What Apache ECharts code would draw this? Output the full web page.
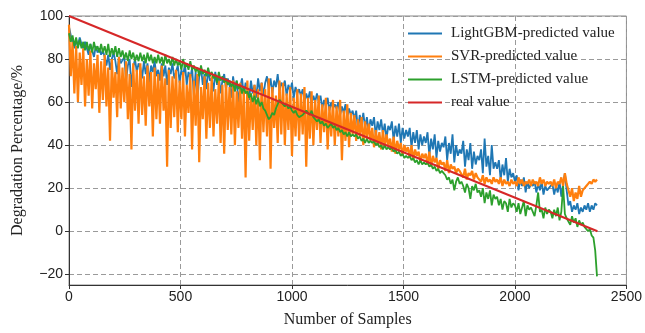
<!DOCTYPE html>
<html>
<head>
<meta charset="utf-8">
<script src="https://cdn.jsdelivr.net/npm/echarts@6/dist/echarts.min.js"></script>
<style>
html,body{margin:0;padding:0;background:#fff;}
#chart{width:645px;height:333px;}
</style>
</head>
<body>
<div id="chart"></div>
<script>
const sampleStep = 8;
const xTicks = [0, 500, 1000, 1500, 2000, 2500];
const yTicks = [-20, 0, 20, 40, 60, 80, 100];
const seriesNames = ['LightGBM-predicted value', 'SVR-predicted value', 'LSTM-predicted value', 'real value'];

const lightgbm = [
  95, 91, 88, 85, 89, 86, 90, 87, 85, 88,
  85, 82, 87, 84, 81, 86, 83, 85, 82, 84,
  81, 77, 82, 75, 80, 83, 79, 73, 81, 78,
  78, 81, 70, 77, 80, 67, 76, 80, 74, 78,
  76, 71, 79, 73, 78, 69, 77, 74, 79, 72,
  75, 70, 78, 72, 77, 68, 76, 73, 78, 71,
  74, 77, 69, 75, 72, 78, 68, 74, 71, 76,
  63, 74, 61, 72, 76, 68, 73, 66, 75, 70,
  71, 65, 74, 68, 72, 64, 70, 73, 66, 71,
  68, 62, 72, 65, 70, 60, 67, 71, 63, 69,
  66, 61, 70, 64, 68, 62, 71, 65, 69, 63,
  69, 72, 66, 71, 64, 70, 67, 73, 65, 69,
  67, 70, 63, 68, 65, 69, 62, 67, 64, 66,
  63, 66, 60, 64, 61, 65, 59, 63, 60, 64,
  60, 63, 57, 61, 58, 62, 56, 60, 57, 59,
  57, 60, 54, 58, 55, 59, 53, 57, 54, 56,
  52, 56, 47, 54, 50, 55, 48, 53, 46, 52,
  49, 53, 44, 51, 47, 52, 45, 50, 43, 49,
  47, 51, 42, 49, 44, 50, 41, 48, 43, 47,
  44, 48, 39, 46, 41, 47, 38, 45, 40, 44,
  41, 46, 35, 43, 38, 45, 34, 42, 37, 41,
  39, 44, 33, 41, 36, 45, 32, 40, 35, 38,
  36, 42, 30, 38, 33, 41, 29, 37, 31, 35,
  33, 38, 27, 43, 30, 35, 26, 40, 29, 32,
  29, 33, 24, 31, 26, 34, 23, 29, 25, 27,
  23, 26, 19, 24, 21, 25, 18, 23, 20, 22,
  21, 23, 18, 22, 19, 23, 17, 21, 19, 20,
  20, 22, 17, 21, 18, 23, 16, 22, 27, 19,
  12, 14, 9, 12, 10, 13, 8, 11, 9, 12,
  10, 13, 9, 12, 10, 13, 12
];
const svr = [
  96, 72, 88, 64, 86, 60, 83, 68, 85, 58,
  80, 63, 84, 57, 78, 66, 82, 55, 79, 61,
  82, 58, 76, 42, 80, 62, 74, 53, 81, 57,
  76, 60, 79, 52, 73, 38, 78, 56, 75, 50,
  78, 54, 72, 49, 77, 58, 74, 44, 76, 52,
  73, 50, 77, 56, 71, 30, 75, 48, 72, 53,
  75, 46, 70, 52, 74, 44, 68, 55, 73, 38,
  70, 49, 73, 32, 67, 52, 72, 43, 69, 48,
  72, 44, 66, 50, 70, 41, 68, 36, 71, 47,
  67, 45, 70, 40, 65, 48, 69, 43, 66, 25,
  70, 42, 64, 47, 68, 40, 66, 33, 69, 46,
  66, 44, 71, 29, 67, 48, 63, 41, 70, 45,
  69, 40, 64, 47, 67, 35, 62, 44, 66, 42,
  64, 45, 67, 30, 62, 43, 65, 40, 61, 47,
  63, 41, 59, 46, 62, 38, 58, 44, 61, 40,
  58, 44, 61, 33, 56, 42, 59, 39, 55, 45,
  54, 42, 52, 44, 53, 40, 51, 43, 50, 42,
  48, 39, 47, 40, 46, 38, 47, 39, 45, 40,
  43, 37, 44, 36, 42, 38, 41, 35, 40, 37,
  39, 34, 40, 33, 38, 35, 37, 32, 36, 34,
  36, 31, 37, 30, 35, 32, 34, 29, 33, 31,
  32, 28, 33, 27, 31, 29, 30, 27, 29, 28,
  28, 25, 29, 24, 27, 26, 28, 24, 27, 25,
  25, 23, 26, 22, 25, 23, 24, 22, 25, 23,
  24, 22, 25, 21, 24, 22, 23, 21, 24, 22,
  23, 21, 25, 22, 24, 21, 23, 22, 24, 21,
  24, 22, 23, 21, 25, 22, 24, 21, 23, 22,
  23, 21, 24, 20, 23, 22, 25, 21, 27, 22,
  19, 16, 20, 14, 18, 15, 21, 16, 19, 20,
  21, 22, 23, 22, 24, 23, 24
];
const lstm = [
  92, 88, 91, 86, 90, 85, 89, 85, 88, 84,
  88, 84, 87, 83, 88, 84, 86, 83, 87, 83,
  86, 82, 87, 81, 85, 82, 86, 81, 85, 81,
  84, 80, 83, 79, 84, 80, 83, 79, 82, 79,
  83, 79, 82, 78, 83, 79, 82, 78, 81, 78,
  82, 78, 81, 77, 82, 78, 80, 77, 81, 77,
  80, 77, 79, 75, 80, 76, 78, 75, 79, 75,
  77, 74, 76, 72, 77, 73, 75, 72, 76, 72,
  74, 71, 73, 69, 74, 70, 72, 69, 71, 68,
  70, 67, 69, 65, 70, 66, 68, 64, 67, 64,
  65, 62, 64, 60, 63, 59, 62, 58, 60, 57,
  56, 54, 52, 53, 55, 54, 57, 59, 61, 60,
  60, 58, 59, 57, 58, 56, 55, 56, 54, 53,
  53, 54, 55, 56, 55, 54, 56, 53, 52, 51,
  52, 50, 51, 49, 50, 48, 49, 50, 48, 49,
  47, 48, 46, 47, 45, 46, 44, 46, 44, 45,
  44, 45, 43, 44, 42, 43, 41, 43, 41, 42,
  41, 42, 40, 41, 39, 40, 38, 40, 38, 39,
  38, 39, 37, 38, 36, 37, 35, 36, 34, 35,
  34, 35, 33, 34, 32, 33, 31, 33, 31, 32,
  31, 32, 30, 31, 29, 30, 28, 29, 27, 28,
  27, 26, 24, 25, 22, 24, 19, 23, 25, 22,
  23, 21, 18, 22, 20, 15, 21, 19, 22, 18,
  19, 16, 20, 13, 18, 15, 19, 12, 17, 15,
  16, 12, 15, 10, 14, 13, 9, 15, 11, 13,
  12, 9, 13, 8, 11, 14, 7, 12, 10, 11,
  11, 7, 12, 18, 9, 10, 6, 11, 8, 10,
  9, 6, 10, 7, 11, 5, 9, 21, 8, 6,
  6, 3, 7, 4, 6, 2, 5, 3, 4, 2,
  2, 0, 1, -2, -3, -9, -21
];
const realX = [0, 2370];
const realY = [100, 0];

const colors = ['#1f77b4', '#ff7f0e', '#2ca02c', '#d62728'];
const toPairs = arr => arr.map((v, i) => [i * sampleStep, v]);

const chart = echarts.init(document.getElementById('chart'), null, {renderer: 'canvas'});
const serif = '"Liberation Serif", "Times New Roman", serif';
const sans = '"Liberation Sans", Arial, sans-serif';
const gridLine = {show: true, lineStyle: {color: '#9a9a9a', type: [5, 3], width: 1}};

chart.setOption({
  animation: false,
  backgroundColor: '#fff',
  color: colors,
  grid: {left: 69, right: 16, top: 16, bottom: 46, show: true, borderColor: '#888', borderWidth: 1},
  legend: {
    orient: 'vertical', left: 403, top: 21, itemWidth: 34, itemHeight: 14, itemGap: 8,
    icon: 'path://M0,6L34,6L34,8L0,8Z',
    data: seriesNames,
    textStyle: {fontFamily: serif, fontSize: 15, color: '#222', padding: [0, 0, 0, 4]}
  },
  xAxis: {
    type: 'value', min: 0, max: 2500, interval: 500,
    name: 'Number of Samples', nameLocation: 'middle', nameGap: 27,
    nameTextStyle: {fontFamily: serif, fontSize: 16, color: '#222'},
    axisLine: {show: true, onZero: false, lineStyle: {color: '#333', width: 1}},
    axisTick: {show: true, inside: false, length: 4, lineStyle: {color: '#333'}, customValues: xTicks},
    axisLabel: {fontFamily: sans, fontSize: 14, color: '#222', margin: 5, customValues: xTicks, formatter: v => String(v)},
    splitLine: gridLine
  },
  yAxis: {
    type: 'value', min: -25, max: 100,
    name: 'Degradation Percentage/%', nameLocation: 'middle', nameGap: 43,
    nameTextStyle: {fontFamily: serif, fontSize: 16, color: '#222'},
    axisLine: {show: true, onZero: false, lineStyle: {color: '#333', width: 1}},
    axisTick: {show: true, inside: false, length: 4, lineStyle: {color: '#333'}, customValues: yTicks},
    axisLabel: {fontFamily: sans, fontSize: 14, color: '#222', margin: 6, customValues: yTicks,
      formatter: v => (v < 0 ? '\u2212' + Math.abs(v) : String(v))},
    splitLine: gridLine
  },
  series: [
    {name: seriesNames[0], type: 'line', data: toPairs(lightgbm), symbol: 'none', lineStyle: {width: 1.8, color: colors[0]}},
    {name: seriesNames[1], type: 'line', data: toPairs(svr), symbol: 'none', lineStyle: {width: 2.2, color: colors[1]}},
    {name: seriesNames[2], type: 'line', data: toPairs(lstm), symbol: 'none', lineStyle: {width: 1.8, color: colors[2]}},
    {name: seriesNames[3], type: 'line', data: realX.map((x, i) => [x, realY[i]]), symbol: 'none', lineStyle: {width: 2, color: colors[3]}}
  ]
});
</script>
</body>
</html>
